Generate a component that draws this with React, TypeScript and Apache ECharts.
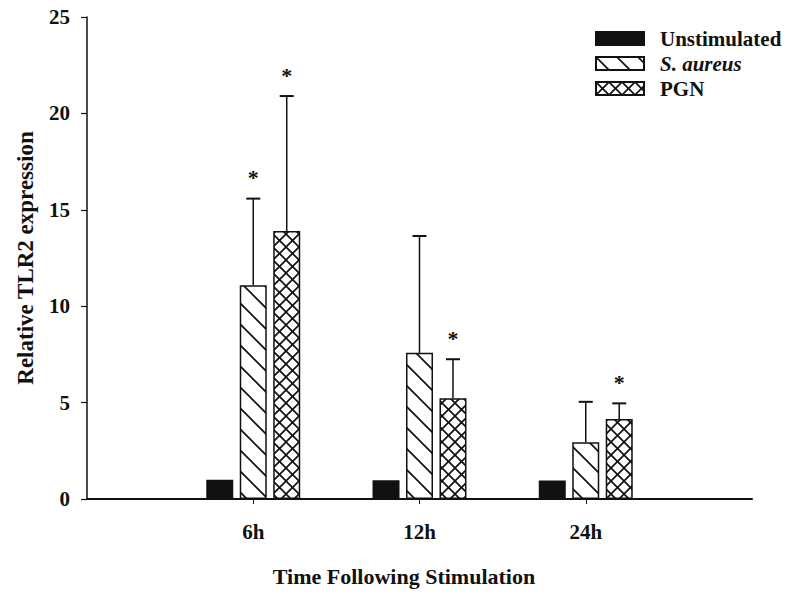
import React, { useEffect, useRef } from 'react';
import * as echarts from 'echarts';

// ---- data ----
const categories = ['', '6h', '12h', '24h', ''];
const seriesNames = ['Unstimulated', 'S. aureus', 'PGN'];
const unstimulatedMean = [null, 1.0, 0.97, 0.96, null];
const sAureusMean = [null, 11.09, 7.58, 2.94, null];
const pgnMean = [null, 13.9, 5.22, 4.15, null];
const sAureusSD = [null, 4.49, 6.06, 2.1, null];
const pgnSD = [null, 7.0, 2.03, 0.81, null];
const sAureusSignificant = [false, true, false, false, false];
const pgnSignificant = [false, true, true, true, false];
const yMin = 0;
const yMax = 25;
const yInterval = 5;

const FONT = "'Liberation Serif', 'Times New Roman', serif";
const INK = '#111';
const BAR_W = 27;
const BAR_GAP = 0.24;

function makeHatch(size: number, cross: boolean): HTMLCanvasElement {
  const c = document.createElement('canvas');
  c.width = size;
  c.height = size;
  const ctx = c.getContext('2d')!;
  ctx.fillStyle = '#fff';
  ctx.fillRect(0, 0, size, size);
  ctx.strokeStyle = INK;
  ctx.lineWidth = 1.7;
  ctx.lineCap = 'square';
  const seg = (x1: number, y1: number, x2: number, y2: number) => {
    ctx.beginPath();
    ctx.moveTo(x1, y1);
    ctx.lineTo(x2, y2);
    ctx.stroke();
  };
  seg(-2, -2, size + 2, size + 2);
  seg(size - 2, -2, size + 2, 2);
  seg(-2, size - 2, 2, size + 2);
  if (cross) {
    seg(size + 2, -2, -2, size + 2);
    seg(-2, 2, 2, -2);
    seg(size - 2, size + 2, size + 2, size - 2);
  }
  return c;
}

export default function App() {
  const ref = useRef<HTMLDivElement>(null);
  useEffect(() => {
    if (!ref.current) return;
    const chart = echarts.init(ref.current, null, { renderer: 'svg' });
    const hatch = makeHatch(21, false);
    const crossHatch = makeHatch(13, true);

    const errData: any[] = [];
    [sAureusMean, pgnMean].forEach((means, k) => {
      const sds = k === 0 ? sAureusSD : pgnSD;
      const sig = k === 0 ? sAureusSignificant : pgnSignificant;
      means.forEach((m, i) => {
        if (m == null) return;
        errData.push([i, k + 1, m, sds[i], sig[i] ? 1 : 0]);
      });
    });

    const barStyle = (color: any) => ({
      color,
      borderColor: INK,
      borderWidth: 1.5,
    });

    chart.setOption({
      animation: false,
      backgroundColor: '#fff',
      grid: { left: 87, right: 40, top: 17, bottom: 97 },
      legend: {
        orient: 'vertical',
        left: 590,
        top: 23,
        itemWidth: 48,
        itemHeight: 13,
        itemGap: 4,
        icon: 'rect',
        data: seriesNames,
        formatter: (n: string) => (n === 'S. aureus' ? '{i|S. aureus}' : n),
        textStyle: {
          fontFamily: FONT,
          fontWeight: 'bold',
          fontSize: 21,
          color: INK,
          padding: [0, 0, 0, 11],
          rich: {
            i: { fontFamily: FONT, fontWeight: 'bold', fontStyle: 'italic', fontSize: 21, color: INK },
          },
        },
      },
      xAxis: {
        type: 'category',
        data: categories,
        boundaryGap: false,
        axisLine: { lineStyle: { color: INK, width: 2 } },
        axisTick: {
          interval: (i: number) => i >= 1 && i <= categories.length - 2,
          length: 5,
          lineStyle: { color: INK, width: 1 },
        },
        axisLabel: {
          interval: 0,
          margin: 22,
          fontFamily: FONT,
          fontWeight: 'bold',
          fontSize: 21,
          color: INK,
        },
        splitLine: { show: false },
      },
      yAxis: {
        type: 'value',
        min: yMin,
        max: yMax,
        interval: yInterval,
        name: 'Relative TLR2 expression',
        nameLocation: 'middle',
        nameGap: 50,
        nameTextStyle: { fontFamily: FONT, fontWeight: 'bold', fontSize: 23, color: INK },
        axisLine: { show: true, lineStyle: { color: INK, width: 1.5 } },
        axisTick: { show: true, length: 6, lineStyle: { color: INK, width: 1.2 } },
        axisLabel: { margin: 17, fontFamily: FONT, fontWeight: 'bold', fontSize: 21, color: INK },
        splitLine: { show: false },
      },
      graphic: [
        {
          type: 'text',
          x: 404,
          y: 576,
          style: {
            text: 'Time Following Stimulation',
            fontFamily: FONT,
            fontWeight: 'bold',
            fontSize: 22,
            fill: INK,
            textAlign: 'center',
            textVerticalAlign: 'middle',
          },
        },
      ],
      series: [
        {
          name: seriesNames[0],
          type: 'bar',
          data: unstimulatedMean,
          barWidth: BAR_W,
          barGap: `${BAR_GAP * 100}%`,
          itemStyle: barStyle(INK),
        },
        {
          name: seriesNames[1],
          type: 'bar',
          data: sAureusMean,
          barWidth: BAR_W,
          barGap: `${BAR_GAP * 100}%`,
          itemStyle: barStyle({ image: hatch, repeat: 'repeat' }),
        },
        {
          name: seriesNames[2],
          type: 'bar',
          data: pgnMean,
          barWidth: BAR_W,
          barGap: `${BAR_GAP * 100}%`,
          itemStyle: barStyle({ image: crossHatch, repeat: 'repeat' }),
        },
        {
          type: 'custom',
          z: 5,
          data: errData,
          encode: { x: 0, y: 2 },
          renderItem: (params: any, api: any) => {
            const cat = api.value(0);
            const sIdx = api.value(1);
            const mean = api.value(2);
            const sd = api.value(3);
            const sig = api.value(4);
            const base = api.coord([cat, mean]);
            const top = api.coord([cat, mean + sd]);
            const x = base[0] + (sIdx - 1) * BAR_W * (1 + BAR_GAP);
            const children: any[] = [
              { type: 'line', shape: { x1: x, y1: base[1], x2: x, y2: top[1] }, style: { stroke: INK, lineWidth: 1.5 } },
              { type: 'line', shape: { x1: x - 7, y1: top[1], x2: x + 7, y2: top[1] }, style: { stroke: INK, lineWidth: 2 } },
            ];
            if (sig) {
              children.push({
                type: 'text',
                x,
                y: top[1] - 21,
                style: {
                  text: '*',
                  fontFamily: FONT,
                  fontWeight: 'bold',
                  fontSize: 22,
                  fill: INK,
                  textAlign: 'center',
                  textVerticalAlign: 'middle',
                },
              });
            }
            return { type: 'group', children };
          },
        },
      ],
    });
    return () => chart.dispose();
  }, []);
  return <div ref={ref} style={{ width: 792, height: 596, position: 'absolute', left: 0, top: 0 }} />;
}
